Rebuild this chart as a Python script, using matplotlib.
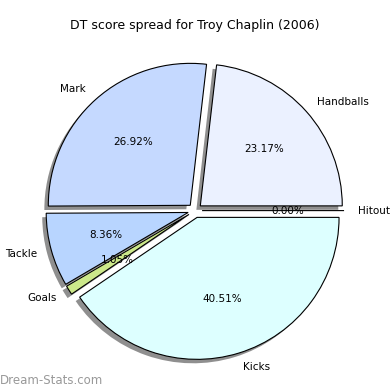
import matplotlib
matplotlib.use('Agg')
import matplotlib.pyplot as plt

labels = ['Hitout', 'Handballs', 'Mark', 'Tackle', 'Goals', 'Kicks']
shares = [0.00, 23.17, 26.92, 8.36, 1.05, 40.51]
colors = ['#e0e0ff', '#ebf1ff', '#c5d9ff', '#b8d5ff', '#cce88a', '#ddffff']
explode = [0.05] * len(labels)

fig = plt.figure(figsize=(3.9, 3.9), dpi=100)
ax = fig.add_axes([0.045, 0.005, 0.91, 0.91])

ax.pie(shares, labels=labels, colors=colors, explode=explode,
       autopct='%1.2f%%', startangle=0,
       shadow={'facecolor': '#8f8f8f', 'edgecolor': 'none', 'alpha': 1.0},
       labeldistance=1.1, pctdistance=0.6,
       wedgeprops={'edgecolor': 'black', 'linewidth': 0.8},
       textprops={'fontsize': 7.5})
ax.set_aspect('equal')

fig.text(0.5, 0.935, 'DT score spread for Troy Chaplin (2006)',
         ha='center', va='center', fontsize=9)
fig.text(0.0, 0.025, 'Dream-Stats.com', color='#999999', fontsize=8.5,
         ha='left', va='center')

fig.savefig('out.png', dpi=100)
